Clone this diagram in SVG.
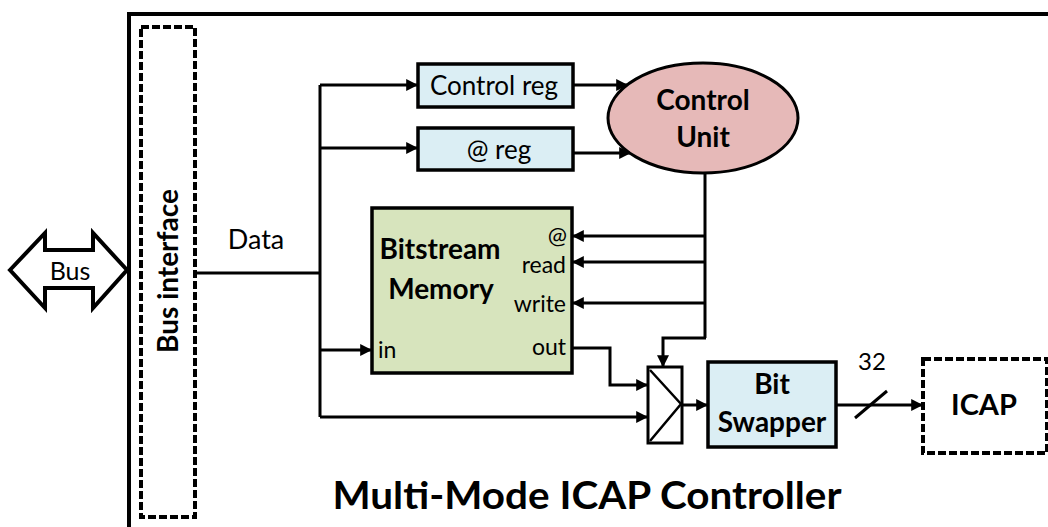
<svg xmlns="http://www.w3.org/2000/svg" width="1048" height="527" viewBox="0 0 1048 527">
  <style>
    .t { font-family: Lato, "Liberation Sans", sans-serif; fill: #000; }
    .b { font-weight: bold; }
    .box { stroke: #000; stroke-width: 3.5; }
    .dash { fill: #fff; stroke: #000; stroke-width: 4; stroke-dasharray: 8 3; }
    .wire { fill: none; stroke: #000; stroke-width: 3; }
    .arr { marker-end: url(#ah); }
  </style>
  <defs>
    <marker id="ah" viewBox="0 0 10 10" refX="9" refY="5" markerWidth="4" markerHeight="4" markerUnits="strokeWidth" orient="auto">
      <path d="M0,0 L10,5 L0,10 Z" fill="#000"/>
    </marker>
  </defs>
  <rect width="1048" height="527" fill="#fff"/>

  <!-- controller frame (open to the right and bottom) -->
  <g id="frame">
    <path d="M129,530 V14 H1052" fill="none" stroke="#000" stroke-width="4"/>
    <text class="t b" x="587" y="509" font-size="38" text-anchor="middle" textLength="509" lengthAdjust="spacingAndGlyphs">Multi-Mode ICAP Controller</text>
  </g>

  <!-- external bus -->
  <g id="bus">
    <polygon points="10,270 45,233 45,250 93,250 93,233 127,270 93,308 93,288 45,288 45,308" fill="#fff" stroke="#000" stroke-width="4" stroke-linejoin="miter"/>
    <text class="t" x="70" y="280" font-size="25" text-anchor="middle">Bus</text>
  </g>

  <g id="bus-interface">
    <rect class="dash" x="141" y="27" width="54" height="490"/>
    <text class="t b" transform="translate(178,271) rotate(-90)" font-size="28" text-anchor="middle">Bus interface</text>
  </g>

  <g id="data-label">
    <text class="t" x="256" y="249" font-size="27" text-anchor="middle">Data</text>
  </g>

  <g id="control-reg">
    <rect class="box" x="418" y="64" width="155" height="43" fill="#dbeef4"/>
    <text class="t" x="494" y="95" font-size="26" text-anchor="middle">Control reg</text>
  </g>

  <g id="addr-reg">
    <rect class="box" x="418" y="128" width="155" height="42" fill="#dbeef4"/>
    <text class="t" x="499" y="159" font-size="26" text-anchor="middle">@ reg</text>
  </g>

  <g id="control-unit">
    <ellipse cx="703" cy="118" rx="95" ry="55" fill="#e6b9b8" stroke="#000" stroke-width="3"/>
    <text class="t b" x="703" y="110" font-size="28" text-anchor="middle">Control</text>
    <text class="t b" x="703" y="147" font-size="28" text-anchor="middle">Unit</text>
  </g>

  <g id="bitstream-memory">
    <rect class="box" x="372" y="208" width="200" height="165" fill="#d7e4bd"/>
    <text class="t b" x="440" y="259" font-size="28" text-anchor="middle">Bitstream</text>
    <text class="t b" x="441" y="299" font-size="28" text-anchor="middle">Memory</text>
    <g font-size="23" text-anchor="end">
      <text class="t" x="567" y="244">@</text>
      <text class="t" x="566" y="273">read</text>
      <text class="t" x="566" y="312">write</text>
      <text class="t" x="566" y="355">out</text>
    </g>
    <text class="t" x="378" y="358" font-size="23">in</text>
  </g>

  <g id="mux">
    <rect x="648" y="367" width="34" height="76" fill="#fff" stroke="#000" stroke-width="3"/>
    <path d="M650,370 L681,404 L650,441" fill="none" stroke="#000" stroke-width="2.5"/>
  </g>

  <g id="bit-swapper">
    <rect class="box" x="708" y="362" width="128" height="85" fill="#dbeef4"/>
    <text class="t b" x="772" y="394" font-size="28" text-anchor="middle">Bit</text>
    <text class="t b" x="772" y="432" font-size="28" text-anchor="middle">Swapper</text>
  </g>

  <g id="icap">
    <rect class="dash" x="923" y="359" width="124" height="94"/>
    <text class="t b" x="984" y="415" font-size="29" text-anchor="middle">ICAP</text>
  </g>

  <g id="connectors">
    <!-- data bus fan-out -->
    <path class="wire" d="M195,273 H320 M320,85 V417"/>
    <path class="wire arr" d="M320,85 H417"/>
    <path class="wire arr" d="M320,148 H417"/>
    <path class="wire arr" d="M320,350 H371"/>
    <path class="wire arr" d="M320,417 H647"/>
    <!-- registers to control unit -->
    <path class="wire arr" d="M573,85 H627"/>
    <path class="wire arr" d="M573,153 H630"/>
    <!-- control unit outputs -->
    <path class="wire" d="M705,173 V338"/>
    <path class="wire arr" d="M705,236 H573"/>
    <path class="wire arr" d="M705,262 H573"/>
    <path class="wire arr" d="M705,303 H573"/>
    <path class="wire arr" d="M706,338 H663 V366"/>
    <!-- memory out to mux -->
    <path class="wire arr" d="M573,348 H610 V385 H647"/>
    <!-- mux to swapper to ICAP -->
    <path class="wire arr" d="M682,405 H707"/>
    <path class="wire arr" d="M836,405 H922"/>
    <path class="wire" d="M855,418 L887,391"/>
    <text class="t" x="872" y="370" font-size="24" text-anchor="middle">32</text>
  </g>
</svg>
